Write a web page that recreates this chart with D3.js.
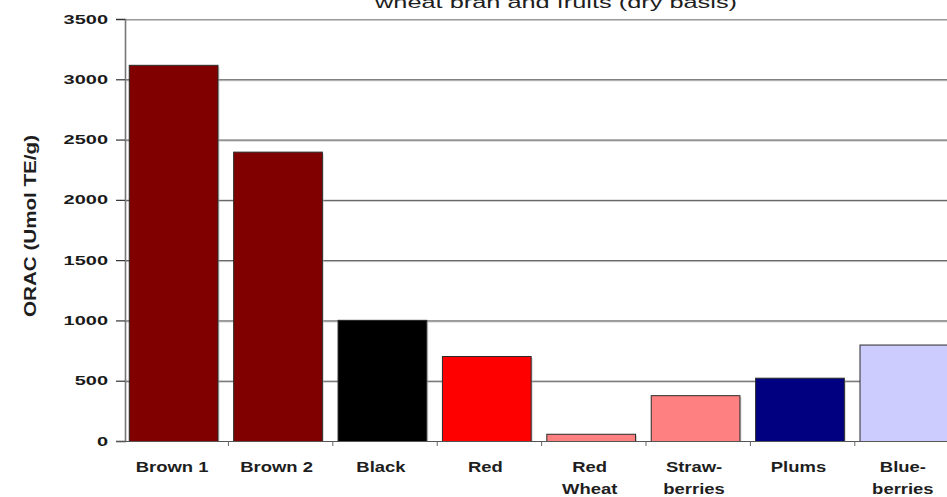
<!DOCTYPE html>
<html>
<head>
<meta charset="utf-8">
<script src="https://cdn.jsdelivr.net/npm/d3@7"></script>
<style>
  html, body { margin: 0; padding: 0; background: #fff; }
  svg { display: block; font-family: Arial, "Liberation Sans", sans-serif; }
</style>
</head>
<body>
<svg id="chart" width="947" height="497"></svg>
<script>
// ORAC values of wheat bran samples and fruits, dry basis
const categories = ["Brown 1", "Brown 2", "Black", "Red", "Red Wheat", "Strawberries", "Plums", "Blueberries"];
const labelLines = [["Brown 1"], ["Brown 2"], ["Black"], ["Red"], ["Red", "Wheat"], ["Straw-", "berries"], ["Plums"], ["Blue-", "berries"]];
const values = [3120, 2400, 1005, 705, 60, 380, 525, 800];
const barColors = ["#800000", "#800000", "#000000", "#ff0000", "#ff8080", "#ff8080", "#000080", "#ccccff"];
const yTicks = [0, 500, 1000, 1500, 2000, 2500, 3000, 3500];
const titleText = "wheat bran and fruits (dry basis)";
const yLabelText = "ORAC (Umol TE/g)";

const svg = d3.select("#chart");
const W = 947;
const plot = { left: 125, right: 957, top: 19, bottom: 441 };

const x = d3.scaleBand()
  .domain(categories)
  .range([plot.left, plot.right])
  .paddingInner(0.15)
  .paddingOuter(0.06)
  .align(0.3);

const y = d3.scaleLinear()
  .domain([0, 3500])
  .range([plot.bottom, plot.top]);

// horizontal gridlines with a soft light line underneath
const grid = svg.append("g");
grid.selectAll("line.shade")
  .data(yTicks.filter(d => d > 0))
  .join("line")
  .attr("class", "shade")
  .attr("x1", plot.left).attr("x2", W)
  .attr("y1", d => y(d) + 1.5).attr("y2", d => y(d) + 1.5)
  .attr("stroke", "#c8c8c8").attr("stroke-width", 1);
grid.selectAll("line.major")
  .data(yTicks.filter(d => d > 0))
  .join("line")
  .attr("class", "major")
  .attr("x1", plot.left).attr("x2", W)
  .attr("y1", d => y(d) + 0.5).attr("y2", d => y(d) + 0.5)
  .attr("stroke", d => d === 3500 ? "#9a9a9a" : "#505050").attr("stroke-width", 1);

// bars
const bars = svg.append("g");
bars.selectAll("rect.shadow")
  .data(values)
  .join("rect")
  .attr("class", "shadow")
  .attr("x", (d, i) => x(categories[i]) + 2)
  .attr("y", d => y(d) + 2)
  .attr("width", x.bandwidth())
  .attr("height", d => plot.bottom - y(d) - 2)
  .attr("fill", "#b0b0b0")
  .attr("opacity", 0.5);
bars.selectAll("rect.bar")
  .data(values)
  .join("rect")
  .attr("class", "bar")
  .attr("x", (d, i) => x(categories[i]) + 0.5)
  .attr("y", d => y(d) + 0.5)
  .attr("width", x.bandwidth())
  .attr("height", d => plot.bottom - y(d))
  .attr("fill", (d, i) => barColors[i])
  .attr("stroke", "#2a2a2a")
  .attr("stroke-width", 1);

// y axis
const yAxis = svg.append("g")
  .attr("transform", `translate(${plot.left},0)`)
  .call(d3.axisLeft(y).tickValues(yTicks).tickSize(9).tickPadding(8).tickFormat(d3.format("d")));
yAxis.select(".domain").attr("stroke", "#777").attr("stroke-width", 1.6);
yAxis.selectAll(".tick line").attr("stroke", "#333").attr("stroke-width", 1.2);
yAxis.selectAll(".tick text")
  .attr("font-family", "Arial, 'Liberation Sans', sans-serif")
  .attr("font-size", 12.5)
  .attr("font-weight", "bold")
  .attr("fill", "#1a1a1a")
  .attr("x", 0)
  .attr("transform", "translate(-17,0) scale(1.6,1)");

// x axis line with small ticks at category boundaries
const xAxisG = svg.append("g");
xAxisG.append("line")
  .attr("x1", plot.left - 9).attr("x2", W)
  .attr("y1", plot.bottom + 0.5).attr("y2", plot.bottom + 0.5)
  .attr("stroke", "#555").attr("stroke-width", 1.2);
const boundaries = categories.map(c => x(c) - x.step() * x.paddingInner() * x.align());
xAxisG.selectAll("line.tick")
  .data(boundaries.slice(1))
  .join("line")
  .attr("class", "tick")
  .attr("x1", d => d).attr("x2", d => d)
  .attr("y1", plot.bottom).attr("y2", plot.bottom + 5)
  .attr("stroke", "#666").attr("stroke-width", 1);

// category labels (one or two lines)
const xl = svg.append("g");
categories.forEach((c, i) => {
  const cx = x(c) + x.bandwidth() / 2 - 1;
  labelLines[i].forEach((line, k) => {
    xl.append("text")
      .attr("transform", `translate(${cx},${472 + k * 22}) scale(1.23,1)`)
      .attr("text-anchor", "middle")
      .attr("font-size", 15)
      .attr("font-weight", "bold")
      .attr("fill", "#1e1e1e")
      .text(line);
  });
});

// y axis title
svg.append("text")
  .attr("transform", "translate(36,226) rotate(-90)")
  .attr("text-anchor", "middle")
  .attr("font-size", 16)
  .attr("font-weight", "bold")
  .attr("fill", "#1e1e1e")
  .attr("textLength", 182)
  .attr("lengthAdjust", "spacingAndGlyphs")
  .text(yLabelText);

// chart title (second line, top edge clipped)
svg.append("text")
  .attr("x", 375)
  .attr("y", 8)
  .attr("font-size", 16)
  .attr("fill", "#1e1e1e")
  .attr("textLength", 362)
  .attr("lengthAdjust", "spacingAndGlyphs")
  .text(titleText);
</script>
</body>
</html>
